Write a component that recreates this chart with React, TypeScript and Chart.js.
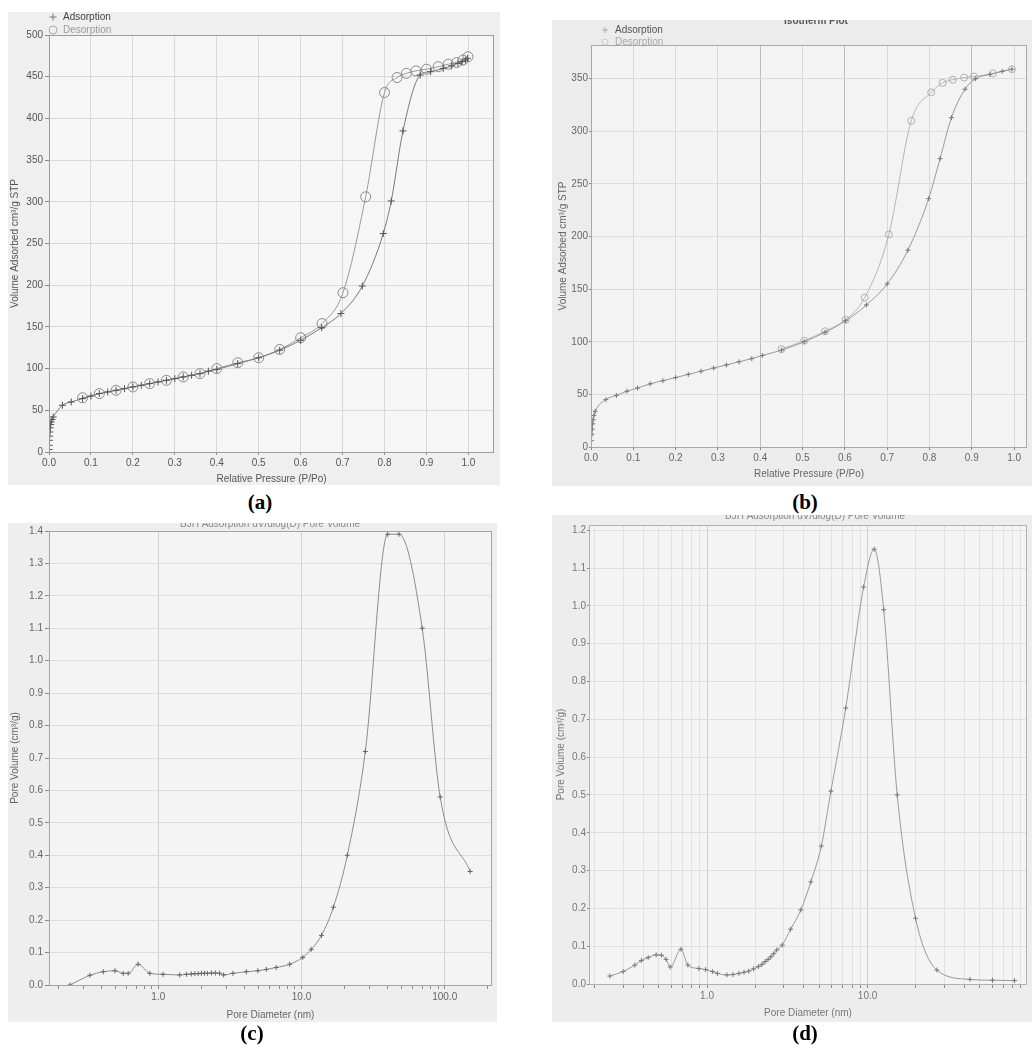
import React, { useEffect, useRef } from "react";
import { Chart, registerables } from "chart.js";

Chart.register(...registerables);

const FONT = "'Liberation Sans', Arial, Helvetica, sans-serif";
const SERIF = "'Liberation Serif', 'Times New Roman', Times, serif";

// ---------- (a) isotherm ----------
const aAdsP = [0.0002, 0.0005, 0.001, 0.0015, 0.002, 0.003, 0.004, 0.005, 0.007, 0.01, 0.032, 0.053, 0.08, 0.1, 0.12, 0.14, 0.16, 0.18, 0.2, 0.22, 0.24, 0.26, 0.28, 0.3, 0.32, 0.34, 0.36, 0.38, 0.4, 0.45, 0.5, 0.55, 0.6, 0.65, 0.696, 0.747, 0.797, 0.816, 0.844, 0.885, 0.91, 0.94, 0.96, 0.975, 0.985, 0.993, 0.998];
const aAdsV = [3, 8, 14, 19, 24, 29, 33, 36, 39, 42, 56, 60, 64, 67, 70, 72, 74, 76, 78, 80, 82, 84, 86, 88, 90, 92, 94, 97, 99, 106, 113, 122, 134, 149, 166, 199, 262, 301, 385, 452, 456, 460, 463, 466, 468, 470, 472];
const aDesP = [0.08, 0.12, 0.16, 0.2, 0.24, 0.28, 0.32, 0.36, 0.4, 0.45, 0.5, 0.55, 0.6, 0.651, 0.701, 0.755, 0.8, 0.83, 0.852, 0.875, 0.9, 0.928, 0.952, 0.972, 0.987, 0.999];
const aDesV = [65, 70, 74, 78, 82, 86, 90, 94, 100, 107, 113, 123, 137, 154, 191, 306, 431, 449, 454, 457, 459, 462, 465, 467, 470, 474];

// ---------- (b) isotherm ----------
const bAdsP = [0.001, 0.002, 0.003, 0.004, 0.005, 0.007, 0.01, 0.035, 0.06, 0.085, 0.11, 0.14, 0.17, 0.2, 0.23, 0.26, 0.29, 0.32, 0.35, 0.38, 0.405, 0.45, 0.504, 0.553, 0.602, 0.651, 0.7, 0.749, 0.798, 0.825, 0.852, 0.884, 0.909, 0.943, 0.972, 0.995];
const bAdsV = [6, 12, 17, 22, 26, 30, 34, 45, 49, 53, 56, 60, 63, 66, 69, 72, 75, 78, 81, 84, 87, 92, 100, 109, 120, 135, 155, 187, 236, 274, 313, 340, 350, 354, 357, 359];
const bDesP = [0.45, 0.504, 0.553, 0.602, 0.647, 0.704, 0.757, 0.804, 0.831, 0.855, 0.882, 0.905, 0.95, 0.995];
const bDesV = [93, 101, 110, 121, 142, 202, 310, 337, 346, 349, 351, 352, 355, 359];

// ---------- (c) BJH pore volume ----------
const cDiam = [0.242, 0.333, 0.413, 0.498, 0.569, 0.616, 0.723, 0.873, 1.08, 1.41, 1.57, 1.7, 1.8, 1.9, 2.0, 2.1, 2.2, 2.35, 2.5, 2.68, 2.86, 3.32, 4.12, 4.96, 5.68, 6.66, 8.27, 10.2, 11.7, 13.8, 16.7, 20.9, 27.9, 40, 48, 69.7, 93, 150.6];
const cVol = [0.0, 0.03, 0.041, 0.044, 0.036, 0.036, 0.064, 0.036, 0.033, 0.031, 0.033, 0.034, 0.035, 0.035, 0.036, 0.036, 0.036, 0.037, 0.037, 0.036, 0.031, 0.036, 0.041, 0.044, 0.048, 0.054, 0.064, 0.085, 0.11, 0.153, 0.24, 0.4, 0.72, 1.39, 1.39, 1.1, 0.58, 0.35];

// ---------- (d) BJH pore volume ----------
const dDiam = [0.248, 0.3, 0.355, 0.39, 0.43, 0.482, 0.52, 0.556, 0.59, 0.688, 0.76, 0.89, 0.98, 1.08, 1.16, 1.33, 1.45, 1.58, 1.7, 1.82, 1.95, 2.09, 2.2, 2.3, 2.4, 2.5, 2.6, 2.72, 2.94, 3.32, 3.84, 4.43, 5.15, 5.91, 7.31, 9.45, 11.0, 12.6, 15.3, 19.9, 27.0, 43.4, 60, 82.3];
const dVol = [0.021, 0.033, 0.05, 0.062, 0.07, 0.077, 0.076, 0.065, 0.045, 0.092, 0.05, 0.041, 0.038, 0.033, 0.028, 0.024, 0.025, 0.028, 0.031, 0.034, 0.04, 0.046, 0.052, 0.059, 0.065, 0.072, 0.08, 0.09, 0.103, 0.145, 0.196, 0.27, 0.365, 0.51, 0.73, 1.05, 1.15, 0.99, 0.5, 0.174, 0.037, 0.012, 0.01, 0.009];

// ---------- ticks ----------
const isoTicksX = [0, 0.1, 0.2, 0.3, 0.4, 0.5, 0.6, 0.7, 0.8, 0.9, 1.0];
const aTicksY = [0, 50, 100, 150, 200, 250, 300, 350, 400, 450, 500];
const bTicksY = [0, 50, 100, 150, 200, 250, 300, 350];
const cTicksY = [0, 0.1, 0.2, 0.3, 0.4, 0.5, 0.6, 0.7, 0.8, 0.9, 1.0, 1.1, 1.2, 1.3, 1.4];
const dTicksY = [0, 0.1, 0.2, 0.3, 0.4, 0.5, 0.6, 0.7, 0.8, 0.9, 1.0, 1.1, 1.2];
const cTicksX = [0.2, 0.3, 0.4, 0.5, 0.6, 0.7, 0.8, 0.9, 1, 2, 3, 4, 5, 6, 7, 8, 9, 10, 20, 30, 40, 50, 60, 70, 80, 90, 100, 200];
const dTicksX = [0.2, 0.3, 0.4, 0.5, 0.6, 0.7, 0.8, 0.9, 1, 2, 3, 4, 5, 6, 7, 8, 9, 10, 20, 30, 40, 50, 60, 70, 80, 90];
const logLabelled = [1, 10, 100];

const isoYTitle = "Volume Adsorbed cm³/g STP";
const isoXTitle = "Relative Pressure (P/Po)";
const bjhYTitle = "Pore Volume (cm³/g)";
const bjhXTitle = "Pore Diameter (nm)";
const bjhHeading = "BJH Adsorption dV/dlog(D) Pore Volume";
const isoHeading = "Isotherm Plot";

type Series = {
  label: string;
  xs: number[];
  ys: number[];
  style: string;
  r: number;
  color: string;
  line: string;
};

type LegendItem = { x: number; y: number; text: string; color: string; style: string; r: number; mark: string };

type Spec = {
  key: string;
  left: number;
  top: number;
  width: number;
  height: number;
  bg: string;
  plotBg: string;
  frame: string;
  padTop: number;
  padRight: number;
  yWidth: number;
  xHeight: number;
  xType: "linear" | "logarithmic";
  xMin: number;
  xMax: number;
  xTicks: number[];
  xLabel: (v: number) => string;
  xGrid: (v: number) => string;
  xTickLen: number;
  xTitlePadBottom: number;
  yMin: number;
  yMax: number;
  yTicks: number[];
  yLabel: (v: number) => string;
  yGrid: string;
  yTickLen: number;
  yTickPad: number;
  yTitlePad: number;
  xTitle: string;
  yTitle: string;
  textColor: string;
  series: Series[];
  legend: LegendItem[];
  heading?: { text: string; x: number; y: number; color: string; bold: boolean };
};

function drawMarker(ctx: CanvasRenderingContext2D, style: string, x: number, y: number, r: number, color: string) {
  ctx.save();
  ctx.strokeStyle = color;
  ctx.lineWidth = 1;
  ctx.beginPath();
  if (style === "circle") {
    ctx.arc(x, y, r, 0, Math.PI * 2);
  } else {
    ctx.moveTo(x - r, y);
    ctx.lineTo(x + r, y);
    ctx.moveTo(x, y - r);
    ctx.lineTo(x, y + r);
  }
  ctx.stroke();
  ctx.restore();
}

function buildConfig(spec: Spec): any {
  const deco = {
    id: "deco_" + spec.key,
    beforeDraw(chart: any) {
      const { ctx, chartArea: a, width, height } = chart;
      ctx.save();
      ctx.fillStyle = spec.bg;
      ctx.fillRect(0, 0, width, height);
      ctx.fillStyle = spec.plotBg;
      ctx.fillRect(a.left, a.top, a.right - a.left, a.bottom - a.top);
      ctx.restore();
    },
    afterDraw(chart: any) {
      const { ctx, chartArea: a } = chart;
      ctx.save();
      ctx.strokeStyle = spec.frame;
      ctx.lineWidth = 1;
      ctx.strokeRect(Math.round(a.left) + 0.5, Math.round(a.top) + 0.5, Math.round(a.right - a.left) - 1, Math.round(a.bottom - a.top));
      ctx.font = `10px ${FONT}`;
      ctx.textBaseline = "middle";
      ctx.textAlign = "left";
      spec.legend.forEach((it) => {
        drawMarker(ctx, it.style, it.x, it.y, it.r, it.mark);
        ctx.fillStyle = it.color;
        ctx.fillText(it.text, it.x + 10, it.y);
      });
      if (spec.heading) {
        const h = spec.heading;
        ctx.font = `${h.bold ? "bold " : ""}10px ${FONT}`;
        ctx.textAlign = "center";
        ctx.fillStyle = h.color;
        ctx.fillText(h.text, h.x, h.y);
      }
      ctx.restore();
    },
  };

  return {
    type: "line",
    data: {
      datasets: spec.series.map((s) => ({
        label: s.label,
        data: s.xs.map((x, i) => ({ x, y: s.ys[i] })),
        borderColor: s.line,
        borderWidth: 1,
        pointStyle: s.style,
        pointRadius: s.r,
        pointBorderColor: s.color,
        pointBackgroundColor: "rgba(0,0,0,0)",
        pointBorderWidth: 1,
        cubicInterpolationMode: "monotone",
        fill: false,
      })),
    },
    options: {
      responsive: false,
      animation: false,
      events: [],
      layout: { padding: { left: 0, top: spec.padTop, right: spec.padRight, bottom: 0 } },
      plugins: {
        legend: { display: false },
        tooltip: { enabled: false },
        title: { display: false },
      },
      scales: {
        x: {
          type: spec.xType,
          min: spec.xMin,
          max: spec.xMax,
          afterBuildTicks: (s: any) => {
            s.ticks = spec.xTicks.map((v) => ({ value: v }));
          },
          afterFit: (s: any) => {
            s.height = spec.xHeight;
          },
          ticks: {
            autoSkip: false,
            maxRotation: 0,
            minRotation: 0,
            padding: 2,
            color: spec.textColor,
            font: { family: FONT, size: 10 },
            callback: (v: any) => spec.xLabel(Number(v)),
          },
          grid: {
            color: (c: any) => spec.xGrid(c.tick ? c.tick.value : 0),
            tickColor: "#8a8a8a",
            tickLength: spec.xTickLen,
            drawTicks: true,
          },
          border: { display: false },
          title: {
            display: true,
            text: spec.xTitle,
            color: spec.textColor,
            font: { family: FONT, size: 10 },
            padding: { top: 0, bottom: spec.xTitlePadBottom },
          },
        },
        y: {
          type: "linear",
          min: spec.yMin,
          max: spec.yMax,
          afterBuildTicks: (s: any) => {
            s.ticks = spec.yTicks.map((v) => ({ value: v }));
          },
          afterFit: (s: any) => {
            s.width = spec.yWidth;
          },
          ticks: {
            autoSkip: false,
            padding: spec.yTickPad,
            color: spec.textColor,
            font: { family: FONT, size: 10 },
            callback: (v: any) => spec.yLabel(Number(v)),
          },
          grid: {
            color: spec.yGrid,
            tickColor: "#8a8a8a",
            tickLength: spec.yTickLen,
            drawTicks: true,
          },
          border: { display: false },
          title: {
            display: true,
            text: spec.yTitle,
            color: spec.textColor,
            font: { family: FONT, size: 10 },
            padding: { top: spec.yTitlePad, bottom: 0 },
          },
        },
      },
    },
    plugins: [deco],
  };
}

const fmt1 = (v: number) => v.toFixed(1);
const fmt0 = (v: number) => String(Math.round(v));
const logFmt = (v: number) => (logLabelled.some((m) => Math.abs(m - v) < 1e-9) ? v.toFixed(1) : "");
const isMajor = (v: number) => logLabelled.some((m) => Math.abs(m - v) < 1e-9);

const specA: Spec = {
  key: "a",
  left: 8,
  top: 12,
  width: 492,
  height: 473,
  bg: "#efefef",
  plotBg: "#f6f6f6",
  frame: "#9c9c9c",
  padTop: 23,
  padRight: 2,
  yWidth: 41,
  xHeight: 33,
  xType: "linear",
  xMin: 0,
  xMax: 1.061,
  xTicks: isoTicksX,
  xLabel: fmt1,
  xGrid: () => "#d9d9d9",
  xTickLen: 3,
  xTitlePadBottom: 0,
  yMin: 0,
  yMax: 500,
  yTicks: aTicksY,
  yLabel: fmt0,
  yGrid: "#d9d9d9",
  yTickLen: 4,
  yTickPad: 2,
  yTitlePad: 1,
  xTitle: isoXTitle,
  yTitle: isoYTitle,
  textColor: "#555",
  series: [
    { label: "Adsorption", xs: aAdsP, ys: aAdsV, style: "cross", r: 3.5, color: "#555", line: "#7a7a7a" },
    { label: "Desorption", xs: aDesP, ys: aDesV, style: "circle", r: 5, color: "#8a8a8a", line: "#9a9a9a" },
  ],
  legend: [
    { x: 45, y: 5, text: "Adsorption", color: "#444", style: "cross", r: 3.5, mark: "#777" },
    { x: 45, y: 18, text: "Desorption", color: "#9a9a9a", style: "circle", r: 4, mark: "#aaa" },
  ],
};

const specB: Spec = {
  key: "b",
  left: 552,
  top: 20,
  width: 480,
  height: 466,
  bg: "#ececec",
  plotBg: "#f2f3f2",
  frame: "#a8a8a8",
  padTop: 25,
  padRight: 2,
  yWidth: 39,
  xHeight: 39,
  xType: "linear",
  xMin: 0,
  xMax: 1.0305,
  xTicks: isoTicksX,
  xLabel: fmt1,
  xGrid: (v: number) => ([0.4, 0.6, 0.9].some((m) => Math.abs(m - v) < 1e-6) ? "#bdbdbd" : "#d8d8d8"),
  xTickLen: 3,
  xTitlePadBottom: 6,
  yMin: 0,
  yMax: 382,
  yTicks: bTicksY,
  yLabel: fmt0,
  yGrid: "#dcdcdc",
  yTickLen: 2,
  yTickPad: 1,
  yTitlePad: 5,
  xTitle: isoXTitle,
  yTitle: isoYTitle,
  textColor: "#666",
  series: [
    { label: "Adsorption", xs: bAdsP, ys: bAdsV, style: "cross", r: 2.5, color: "#777", line: "#9a9a9a" },
    { label: "Desorption", xs: bDesP, ys: bDesV, style: "circle", r: 3.5, color: "#b0b0b0", line: "#b5b5b5" },
  ],
  legend: [
    { x: 53, y: 10, text: "Adsorption", color: "#555", style: "cross", r: 3, mark: "#aaa" },
    { x: 53, y: 22, text: "Desorption", color: "#aaa", style: "circle", r: 3, mark: "#ccc" },
  ],
  heading: { text: isoHeading, x: 264, y: 1, color: "#555", bold: true },
};

const specC: Spec = {
  key: "c",
  left: 8,
  top: 523,
  width: 489,
  height: 499,
  bg: "#eeeeee",
  plotBg: "#f4f4f4",
  frame: "#a4a4a4",
  padTop: 5,
  padRight: 4,
  yWidth: 41,
  xHeight: 37,
  xType: "logarithmic",
  xMin: 0.1725,
  xMax: 214,
  xTicks: cTicksX,
  xLabel: logFmt,
  xGrid: (v: number) => (isMajor(v) ? "#d2d2d2" : "rgba(0,0,0,0)"),
  xTickLen: 4,
  xTitlePadBottom: 1,
  yMin: 0,
  yMax: 1.4,
  yTicks: cTicksY,
  yLabel: fmt1,
  yGrid: "#dddddd",
  yTickLen: 4,
  yTickPad: 2,
  yTitlePad: 1,
  xTitle: bjhXTitle,
  yTitle: bjhYTitle,
  textColor: "#666",
  series: [
    { label: "Pore Volume", xs: cDiam, ys: cVol, style: "cross", r: 2.5, color: "#666", line: "#8c8c8c" },
  ],
  legend: [],
  heading: { text: bjhHeading, x: 262, y: 1, color: "#888", bold: false },
};

const specD: Spec = {
  key: "d",
  left: 552,
  top: 515,
  width: 480,
  height: 507,
  bg: "#ededed",
  plotBg: "#f3f4f3",
  frame: "#b0b0b0",
  padTop: 10,
  padRight: 1,
  yWidth: 37,
  xHeight: 38,
  xType: "logarithmic",
  xMin: 0.184,
  xMax: 98.4,
  xTicks: dTicksX,
  xLabel: logFmt,
  xGrid: (v: number) => (isMajor(v) ? "#cfcfcf" : "#e1e1e1"),
  xTickLen: 4,
  xTitlePadBottom: 3,
  yMin: 0,
  yMax: 1.214,
  yTicks: dTicksY,
  yLabel: fmt1,
  yGrid: "#dedede",
  yTickLen: 2,
  yTickPad: 1,
  yTitlePad: 3,
  xTitle: bjhXTitle,
  yTitle: bjhYTitle,
  textColor: "#777",
  series: [
    { label: "Pore Volume", xs: dDiam, ys: dVol, style: "cross", r: 2.5, color: "#777", line: "#9a9a9a" },
  ],
  legend: [],
  heading: { text: bjhHeading, x: 263, y: 1, color: "#888", bold: false },
};

const SPECS = [specA, specB, specC, specD];

const CAPTIONS = [
  { text: "(a)", x: 260, y: 502 },
  { text: "(b)", x: 805, y: 502 },
  { text: "(c)", x: 252, y: 1033 },
  { text: "(d)", x: 805, y: 1033 },
];

function Panel({ spec }: { spec: Spec }) {
  const ref = useRef<HTMLCanvasElement | null>(null);
  useEffect(() => {
    if (!ref.current) return;
    const chart = new Chart(ref.current, buildConfig(spec));
    return () => chart.destroy();
  }, [spec]);
  return (
    <div
      style={{
        position: "absolute",
        left: spec.left,
        top: spec.top,
        width: spec.width,
        height: spec.height,
        background: spec.bg,
        overflow: "hidden",
      }}
    >
      <canvas
        ref={ref}
        width={spec.width}
        height={spec.height}
        style={{ display: "block", width: spec.width, height: spec.height }}
      />
    </div>
  );
}

export default function App() {
  return (
    <div
      style={{
        position: "absolute",
        left: 0,
        top: 0,
        width: 1032,
        height: 1053,
        background: "#ffffff",
        overflow: "hidden",
      }}
    >
      {SPECS.map((s) => (
        <Panel key={s.key} spec={s} />
      ))}
      {CAPTIONS.map((c) => (
        <div
          key={c.text}
          style={{
            position: "absolute",
            left: c.x,
            top: c.y,
            transform: "translate(-50%, -50%)",
            fontFamily: SERIF,
            fontWeight: "bold",
            fontSize: 21,
            color: "#000",
            whiteSpace: "nowrap",
            lineHeight: 1,
          }}
        >
          {c.text}
        </div>
      ))}
    </div>
  );
}
